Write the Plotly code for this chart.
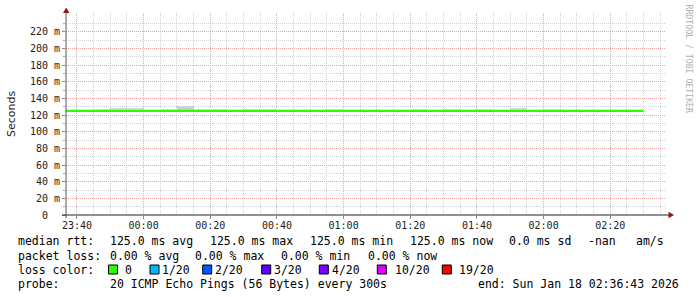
import plotly.graph_objects as go
import pandas as pd

# ---------------- data ----------------
t_start = "2026-01-17 23:36:43"
t_end = "2026-01-18 02:36:43"

rtt_times = list(pd.date_range("2026-01-17 23:35", "2026-01-18 02:30", freq="5min"))
median_rtt_ms = [125.0, 125.0, 125.0, 125.0, 125.0, 125.0, 125.0, 125.0, 125.0,
                 125.0, 125.0, 125.0, 125.0, 125.0, 125.0, 125.0, 125.0, 125.0,
                 125.0, 125.0, 125.0, 125.0, 125.0, 125.0, 125.0, 125.0, 125.0,
                 125.0, 125.0, 125.0, 125.0, 125.0, 125.0, 125.0, 125.0, 125.0]

smoke_start = ["2026-01-17 23:45", "2026-01-17 23:50", "2026-01-17 23:55",
               "2026-01-18 00:05", "2026-01-18 00:10", "2026-01-18 00:15",
               "2026-01-18 00:20", "2026-01-18 00:30", "2026-01-18 00:35",
               "2026-01-18 00:55", "2026-01-18 01:20", "2026-01-18 01:30",
               "2026-01-18 01:40", "2026-01-18 01:50", "2026-01-18 02:00"]
smoke_max_ms = [127.8, 129.0, 129.0, 127.8, 130.5, 127.6, 127.6, 127.5, 127.5,
                127.5, 127.8, 127.8, 127.8, 128.8, 127.8]
smoke_min_ms = 124.5

y_tick_vals = [0, 20, 40, 60, 80, 100, 120, 140, 160, 180, 200, 220]
y_tick_text = ["0  ", "20 m", "40 m", "60 m", "80 m", "100 m", "120 m", "140 m",
               "160 m", "180 m", "200 m", "220 m"]
y_minor_vals = [10, 30, 50, 70, 90, 110, 130, 150, 170, 190, 210, 230]

rtt_stat_names = ["avg", "max", "min", "now"]
rtt_stat_values = [125.0, 125.0, 125.0, 125.0]
rtt_sd = 0.0
loss_stat_names = ["avg", "max", "min", "now"]
loss_stat_values = [0.00, 0.00, 0.00, 0.00]

loss_labels = ["0", "1/20", "2/20", "3/20", "4/20", "10/20", "19/20"]
loss_colors = ["#26ff00", "#00b8ff", "#0059ff", "#5e00ff", "#7e00ff", "#dd00ff", "#ff0000"]

probe_text = "20 ICMP Echo Pings (56 Bytes) every 300s"
end_text = "end: Sun Jan 18 02:36:43 2026"

# ---------------- layout geometry (pixels) ----------------
W, H = 697, 297
L, T = 66, 13
PW, PH = 600, 202
R = W - L - PW
B = H - T - PH
YMAX = 242.4

def px(x):
    return (x - L) / PW

def py(y):
    return (T + PH - y) / PH

MONO = "DejaVu Sans Mono"
NB = "\u00a0"
fig = go.Figure()

# smoke
def smoke_color(v):
    if v >= 130:
        return "#d0d0d0"
    if v >= 128.5:
        return "#dadada"
    return "#e9e9e9"

centers = [pd.Timestamp(s) + pd.Timedelta(minutes=2.5) for s in smoke_start]
fig.add_trace(go.Bar(
    x=centers, y=[v - smoke_min_ms for v in smoke_max_ms], base=smoke_min_ms,
    width=300000, marker=dict(color=[smoke_color(v) for v in smoke_max_ms], line=dict(width=0)),
    hoverinfo="skip", showlegend=False))

# median line
fig.add_trace(go.Scatter(
    x=rtt_times, y=median_rtt_ms, mode="lines", line=dict(color="#26ff00", width=2.3, shape="hv"),
    showlegend=False, hoverinfo="skip"))

MAJ = "#eba3a3"
MIN = "#d2d2d2"
DASH = "1px,1px"

fig.update_layout(
    width=W, height=H, margin=dict(l=L, r=R, t=T, b=B, pad=0),
    paper_bgcolor="white", plot_bgcolor="white", bargap=0,
    xaxis=dict(type="date", range=[t_start, t_end], tick0="2026-01-17 23:40", dtick=20 * 60 * 1000,
               tickformat="%H:%M", showgrid=True, gridcolor=MAJ, griddash=DASH, gridwidth=1,
               zeroline=False, showline=False, ticks="outside", ticklen=3, tickcolor="#888",
               ticklabelstandoff=-2,
               tickfont=dict(family=MONO, size=10, color="#222"),
               minor=dict(tick0="2026-01-17 23:40", dtick=5 * 60 * 1000, showgrid=True,
                          gridcolor=MIN, griddash=DASH, ticks="")),
    yaxis=dict(range=[0, YMAX], tickmode="array", tickvals=y_tick_vals,
               ticktext=[t.replace(" ", NB) for t in y_tick_text],
               showgrid=True, gridcolor=MAJ, griddash=DASH, gridwidth=1, zeroline=False,
               showline=False, ticks="outside", ticklen=3, tickcolor="#888",
               tickfont=dict(family=MONO, size=10, color="#222"),
               minor=dict(tickmode="array", tickvals=y_minor_vals, showgrid=True,
                          gridcolor=MIN, griddash=DASH, ticks="outside", ticklen=2, tickcolor="#aaa")),
)

shapes = []
# axes
shapes.append(dict(type="line", xref="paper", yref="paper", x0=px(66), x1=px(66), y0=py(218), y1=py(11),
                   line=dict(color="#555", width=1)))
shapes.append(dict(type="line", xref="paper", yref="paper", x0=px(62), x1=px(670), y0=py(215), y1=py(215),
                   line=dict(color="#222", width=1)))
# arrows
shapes.append(dict(type="path", xref="paper", yref="paper",
                   path=f"M {px(63)} {py(13)} L {px(69.5)} {py(13)} L {px(66.2)} {py(7.5)} Z",
                   fillcolor="#8b1a1a", line=dict(width=0)))
shapes.append(dict(type="path", xref="paper", yref="paper",
                   path=f"M {px(668.5)} {py(211.8)} L {px(668.5)} {py(218.2)} L {px(674)} {py(215)} Z",
                   fillcolor="#8b1a1a", line=dict(width=0)))

ann = []
def text(x, y, s, size=11.5, color="#000", anchor="left", family=MONO, angle=0):
    ann.append(dict(xref="paper", yref="paper", x=px(x), y=py(y), text=s.replace(" ", NB),
                    showarrow=False, xanchor=anchor, yanchor="middle", textangle=angle,
                    font=dict(family=family, size=size, color=color)))

# y label
text(11, 114, "Seconds", size=11, family="DejaVu Sans", color="#222", anchor="center", angle=-90)
# watermark
text(688.5, 59, "RRDTOOL / TOBI OETIKER", size=8.2, color="#b0b0b0", anchor="center", angle=90)

# legend rows
r1, r2, r3, r4 = 241.5, 255.5, 269.5, 283.5
text(16, r1, "median rtt:")
for xx, n, v in zip([107.7, 207.7, 307.7, 407.7], rtt_stat_names, rtt_stat_values):
    text(xx, r1, f"{v:.1f} ms {n}")
text(506.7, r1, f"{rtt_sd:.1f} ms sd")
text(586.0, r1, "-nan")
text(634.3, r1, "am/s")

text(16, r2, "packet loss:")
for xx, n, v in zip([107.7, 193.3, 279.3, 365.5], loss_stat_names, loss_stat_values):
    text(xx, r2, f"{v:.2f} % {n}")

text(16, r3, "loss color:")
box_x = [108.5, 150.0, 202.7, 261.7, 319.3, 377.3, 442.3]
lab_x = [123.3, 160.0, 213.0, 272.0, 329.7, 392.7, 457.3]
for bx, lx, lab, col in zip(box_x, lab_x, loss_labels, loss_colors):
    shapes.append(dict(type="rect", xref="paper", yref="paper", x0=px(bx), x1=px(bx + 9),
                       y0=py(274), y1=py(265), fillcolor=col, line=dict(color="#000", width=1)))
    text(lx, r3, lab)

text(16, r4, "probe:")
text(107.7, r4, probe_text)
text(680.5, r4, end_text, anchor="right")

fig.update_layout(shapes=shapes, annotations=ann)
fig.write_html("out.html")
